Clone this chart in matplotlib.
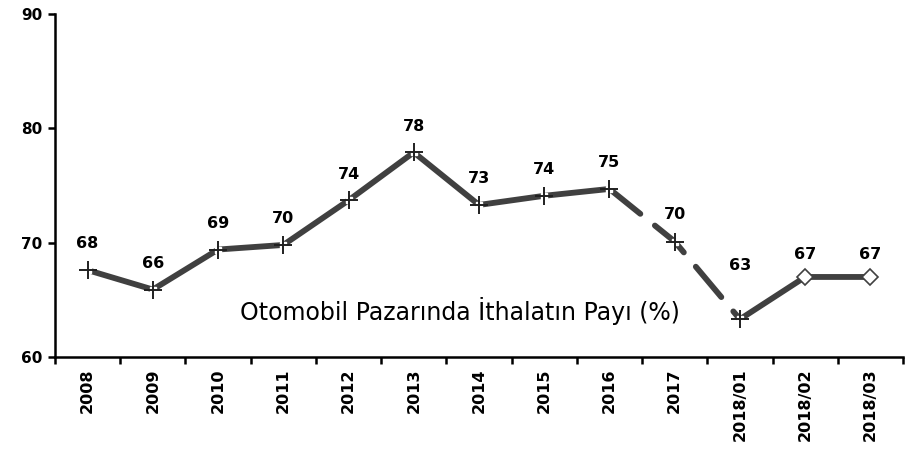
import numpy as np
import matplotlib.pyplot as plt

periods = ["2008", "2009", "2010", "2011", "2012", "2013", "2014", "2015",
           "2016", "2017", "2018/01", "2018/02", "2018/03"]
share = [67.6, 65.9, 69.4, 69.8, 73.7, 77.9, 73.3, 74.1, 74.7, 70.1, 63.3, 67.0, 67.0]
# vertical offset (pixels) of each value label above its point
label_dy = [27, 26, 26, 26, 26, 26, 26, 26, 26, 27, 54, 22, 22]

line_col = "#404040"
x = np.arange(len(periods))
y = np.array(share)

fig = plt.figure(figsize=(9.06, 4.54), dpi=100)
ax = fig.add_axes([55 / 906, (454 - 357) / 454, 848 / 906, 343 / 454])

lw = 4.2
# solid through 2016, dashed 2016 -> 2018/01, solid afterwards
ax.plot(x[:9], y[:9], color=line_col, lw=lw, solid_capstyle="round", zorder=2)
ax.plot(x[8:11], y[8:11], color=line_col, lw=lw, linestyle=(0, (6.8, 3.2)),
        dash_capstyle="round", zorder=2)
ax.plot(x[10:], y[10:], color=line_col, lw=lw, solid_capstyle="round", zorder=2)

# markers: crosses for yearly values, open diamonds for monthly ones
ax.plot(x[:11], y[:11], linestyle="none", marker="s", ms=5, color="white",
        zorder=3)
ax.plot(x[:11], y[:11], linestyle="none", marker="+", ms=13, mew=1.4,
        color="#202020", zorder=4)
ax.plot(x[11:], y[11:], linestyle="none", marker="D", ms=8, mew=1.2,
        mfc="white", mec=line_col, zorder=4)

for xi, yi, dy in zip(x, y, label_dy):
    ax.annotate(f"{yi:.0f}", (xi, yi), xytext=(0, dy * 0.72),
                textcoords="offset points", ha="center", va="center",
                fontsize=11.5, fontweight="bold", color="black")

ax.text(0.478, 0.134, "Otomobil Pazarında İthalatın Payı (%)",
        transform=ax.transAxes, ha="center", va="center", fontsize=17,
        color="black")

ax.set_xlim(-0.5, len(periods) - 0.5)
ax.set_ylim(60, 90)
ax.set_yticks([60, 70, 80, 90])
ax.set_yticklabels(["60", "70", "80", "90"], fontweight="bold", fontsize=11)

ax.set_xticks(x)
ax.set_xticklabels(periods, rotation=90, fontweight="bold", fontsize=11.5)
ax.set_xticks(np.arange(len(periods) + 1) - 0.5, minor=True)
ax.tick_params(axis="x", which="major", length=0, pad=8)
ax.tick_params(axis="x", which="minor", length=5, width=1.8, direction="out")
ax.tick_params(axis="y", length=5, width=1.8, direction="out", pad=4)

for side in ("top", "right"):
    ax.spines[side].set_visible(False)
for side in ("left", "bottom"):
    ax.spines[side].set_linewidth(1.8)

fig.savefig("out.png", dpi=100)
